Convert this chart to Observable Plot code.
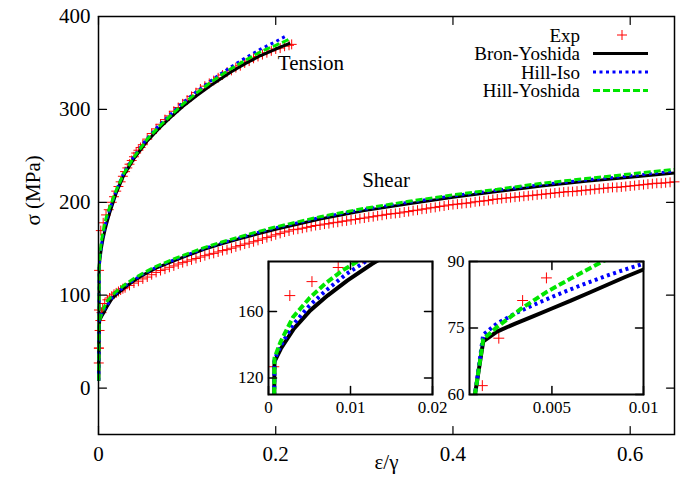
<!DOCTYPE html>
<html><head><meta charset="utf-8">
<script src="https://cdn.jsdelivr.net/npm/d3@7"></script>
<script src="https://cdn.jsdelivr.net/npm/@observablehq/plot@0.6"></script>
<style>
body{margin:0;background:#fff;}
#wrap{position:relative;width:684px;height:496px;font-family:"Liberation Serif",serif;}
#wrap svg{position:absolute;overflow:visible;font-family:"Liberation Serif",serif !important;}
#wrap svg text, #wrap svg g{font-family:"Liberation Serif",serif !important;}
</style></head><body><div id="wrap"></div>
<script>
// ---------- data (strain, stress MPa) ----------
const tensionExp = [[0.0003,43],[0.0005,84],[0.00065,126.7],[0.0026,169.5],[0.0053,177.9],[0.0085,186.4],[0.0115,192],[0.015,200],[0.0175,206],[0.02,212],[0.0225,217],[0.025,222],[0.0275,228],[0.03,233],[0.0325,237],[0.035,241],[0.0375,245],[0.04,249],[0.0425,253],[0.045,256],[0.0475,259],[0.05,262],[0.055,268],[0.06,274],[0.065,279],[0.07,284],[0.075,289],[0.08,293],[0.085,298],[0.09,302],[0.095,306],[0.1,310],[0.105,314],[0.11,318],[0.115,322],[0.12,325],[0.125,328],[0.13,331],[0.135,334],[0.14,337],[0.145,340],[0.15,342],[0.155,345],[0.16,347],[0.165,350],[0.17,352],[0.175,355],[0.18,357],[0.185,359],[0.19,361],[0.195,363],[0.2,365],[0.205,366],[0.21,368],[0.215,369],[0.218,370]];
const tensionBron = [[0.0002,8],[0.0007,110],[0.00073,129.7],[0.0015,137.5],[0.0031,149.6],[0.0051,160.6],[0.0072,169.5],[0.0096,178.5],[0.0126,188.5],[0.02,210],[0.0285,229],[0.04,247],[0.055,266],[0.07,281],[0.081,291],[0.095,303],[0.111,315],[0.13,328],[0.149,340],[0.165,349],[0.183,358],[0.2,365],[0.2163,371.3]];
const tensionHillIso = [[0.0002,8],[0.0007,110],[0.00073,131],[0.0015,139.5],[0.003,152],[0.005,163.5],[0.007,172.5],[0.0095,182.5],[0.012,190.5],[0.02,212.5],[0.0285,232],[0.04,249.5],[0.055,269],[0.07,284.5],[0.081,294.5],[0.095,307],[0.111,319.5],[0.13,333],[0.149,345.5],[0.165,355],[0.183,365],[0.2,373],[0.2126,379.6]];
const tensionHillYos = [[0.0002,8],[0.0007,110],[0.00073,132],[0.0015,142],[0.003,156.6],[0.005,168],[0.007,177],[0.009,184.5],[0.011,190.5],[0.02,213],[0.0285,231],[0.04,248.5],[0.055,268],[0.07,283],[0.081,293],[0.095,305.5],[0.111,318],[0.13,331.5],[0.149,343.5],[0.165,352.5],[0.183,362],[0.2,369],[0.2144,375]];

const shearExp = [[0.0003,27],[0.0006,43],[0.0012,62],[0.0021,72.7],[0.0034,81.2],[0.0047,86.3],[0.007,91],[0.01,95],[0.0125,97],[0.015,99],[0.0175,101],[0.02,102.5],[0.0225,104],[0.025,105.5],[0.0275,107],[0.03,108],[0.035,110.5],[0.04,113],[0.045,115],[0.05,117.5],[0.055,119.5],[0.06,122],[0.065,124.5],[0.07,126.5],[0.075,128],[0.08,130],[0.085,131.5],[0.09,133.5],[0.095,135],[0.1,136.5],[0.105,138],[0.11,139.5],[0.115,141],[0.12,142.5],[0.125,144],[0.13,145],[0.135,146.5],[0.14,148],[0.145,149],[0.15,150.5],[0.155,152],[0.16,153.5],[0.165,155],[0.17,156],[0.175,157.5],[0.18,159],[0.185,160.5],[0.19,162],[0.195,163.5],[0.2,165],[0.205,166.5],[0.21,168],[0.215,169],[0.22,170.5],[0.225,171],[0.23,172],[0.235,173],[0.24,174],[0.245,175],[0.25,175.5],[0.255,176.5],[0.26,177],[0.265,178],[0.27,178.5],[0.275,179.5],[0.28,180],[0.285,181],[0.29,181.5],[0.295,182.5],[0.3,183],[0.305,184],[0.31,184.5],[0.315,185.5],[0.32,186],[0.325,187],[0.33,187.5],[0.335,188],[0.34,188.5],[0.345,189.5],[0.35,190],[0.355,191],[0.36,191.5],[0.365,192.5],[0.37,193],[0.375,194],[0.38,194.5],[0.385,195.5],[0.39,196],[0.395,197],[0.4,197.5],[0.405,198],[0.41,198.5],[0.415,199],[0.42,199.5],[0.425,200.5],[0.43,201],[0.435,201.5],[0.44,202],[0.445,203],[0.45,203.5],[0.455,204],[0.46,204.5],[0.465,205],[0.47,205.5],[0.475,206],[0.48,206.5],[0.485,207],[0.49,207.5],[0.495,208],[0.5,208.5],[0.505,209],[0.51,209.5],[0.515,210],[0.52,210.5],[0.525,211],[0.53,211.5],[0.535,211.5],[0.54,212],[0.545,212.5],[0.55,213],[0.555,213.5],[0.56,214],[0.565,214.5],[0.57,215],[0.575,215.5],[0.58,216],[0.585,216],[0.59,216.5],[0.595,217],[0.6,217.5],[0.605,218],[0.61,218.5],[0.615,219],[0.62,219.5],[0.625,220],[0.63,220.5],[0.635,220.5],[0.64,221],[0.645,221.5],[0.65,222]];
const shearBron = [[0.0002,8],[0.0008,60],[0.00125,72],[0.002,74.2],[0.003,76],[0.004,77.7],[0.005,79.4],[0.006,81.1],[0.007,82.9],[0.008,84.7],[0.009,86.5],[0.01,88.2],[0.015,96],[0.02,100.5],[0.03,108.5],[0.04,115.5],[0.05,121.5],[0.065,129],[0.085,137],[0.1,142.5],[0.12,149.5],[0.14,155.5],[0.16,161],[0.18,166],[0.2,171],[0.25,182],[0.3,191],[0.35,198.5],[0.4,205.5],[0.45,211.5],[0.5,217.5],[0.55,222.5],[0.6,227],[0.65,231.5]];
const shearHillIso = [[0.0002,8],[0.0008,60],[0.00125,73.5],[0.002,76],[0.003,78.3],[0.004,80.2],[0.005,82],[0.006,83.7],[0.007,85.3],[0.008,86.8],[0.009,88.2],[0.01,89.5],[0.015,97],[0.02,102],[0.03,110],[0.04,116.5],[0.05,122.5],[0.065,130],[0.085,138],[0.1,143.5],[0.12,150.5],[0.14,156.5],[0.16,162],[0.18,167.5],[0.2,172.5],[0.25,183.5],[0.3,192.5],[0.35,200],[0.4,207],[0.45,213],[0.5,219],[0.55,224],[0.6,228.5],[0.65,233.5]];
const shearHillYos = [[0.0002,8],[0.0008,60],[0.00125,72.5],[0.002,75.2],[0.0033,79.3],[0.0047,83.1],[0.006,86.1],[0.0078,90.1],[0.01,94],[0.015,99],[0.02,104],[0.03,111.5],[0.04,118],[0.05,123.5],[0.065,131],[0.085,139],[0.1,144.5],[0.12,151.5],[0.14,157.5],[0.16,163],[0.18,168.5],[0.2,173.5],[0.25,184.5],[0.3,193.5],[0.35,201],[0.4,208],[0.45,214],[0.5,220.5],[0.55,225.5],[0.6,230.5],[0.65,235.5]];

// axes / ticks
const mainXTicks = [0, 0.2, 0.4, 0.6];
const mainYTicks = [0, 100, 200, 300, 400];
const inset1XTicks = [0, 0.01, 0.02];
const inset1YTicks = [120, 160];
const inset2XTicks = [0.005, 0.01];
const inset2YTicks = [60, 75, 90];
const legendLabels = ["Exp", "Bron-Yoshida", "Hill-Iso", "Hill-Yoshida"];
const curveLabels = [{text: "Tension", x: 0.2397, y: 349.8}, {text: "Shear", x: 0.3245, y: 223.7}];

// ---------- styles ----------
const RED = "#ff0000", BLUE = "#0000ff", GREEN = "#00e600";
const FONT = "Liberation Serif";
const DOT = "3,3.5", DASH = "7,3";
const tickShape = {draw(ctx, l) { ctx.moveTo(0, 0); ctx.lineTo(0, -l); }};

function frameTicks(xt, yt, len, sw) {
  const o = {shape: tickShape, length: len, anchor: "start", stroke: "black", strokeWidth: sw};
  return [
    Plot.vector(xt, {...o, x: d => d, frameAnchor: "bottom", rotate: 0}),
    Plot.vector(xt, {...o, x: d => d, frameAnchor: "top", rotate: 180}),
    Plot.vector(yt, {...o, y: d => d, frameAnchor: "left", rotate: 90}),
    Plot.vector(yt, {...o, y: d => d, frameAnchor: "right", rotate: 270})
  ];
}
function curves(exp, bron, iso, yos, lw, r, clip) {
  const X = d => d[0], Y = d => d[1];
  const L = {strokeWidth: lw, strokeLinecap: "butt", strokeLinejoin: "miter", clip};
  return [
    Plot.dot(exp, {x: X, y: Y, symbol: "plus", r, stroke: RED, strokeWidth: 1, clip}),
    Plot.line(bron, {x: X, y: Y, stroke: "black", ...L}),
    Plot.line(iso, {x: X, y: Y, stroke: BLUE, strokeDasharray: DOT, ...L}),
    Plot.line(yos, {x: X, y: Y, stroke: GREEN, strokeDasharray: DASH, ...L})
  ];
}

const wrap = document.getElementById("wrap");

// ---------- main plot ----------
const main = Plot.plot({
  width: 684, height: 496,
  marginLeft: 98, marginRight: 10, marginTop: 16, marginBottom: 62,
  x: {domain: [0, 0.65]},
  y: {domain: [-50, 400]},
  style: {fontFamily: FONT, fontSize: "21px", color: "black", background: "transparent"},
  marks: [
    ...curves(shearExp, shearBron, shearHillIso, shearHillYos, 3, 3.3, false),
    ...curves(tensionExp, tensionBron, tensionHillIso, tensionHillYos, 3, 3.3, false),
    Plot.frame({stroke: "black", strokeWidth: 1.5}),
    ...frameTicks(mainXTicks, mainYTicks, 8, 1.2),
    Plot.axisX({ticks: mainXTicks, tickSize: 0, tickPadding: 12, tickFormat: d => String(d), label: null, fontSize: 21, fontFamily: FONT}),
    Plot.axisY({ticks: mainYTicks, tickSize: 0, tickPadding: 8, label: null, fontSize: 21, fontFamily: FONT}),
    Plot.text(curveLabels, {x: "x", y: "y", text: "text", fontSize: 21, fontFamily: FONT}),
    Plot.text(["ε/γ"], {frameAnchor: "bottom", dy: 34, fontSize: 21, fontFamily: FONT}),
    Plot.text(["σ (MPa)"], {frameAnchor: "left", dx: -65, rotate: -90, fontSize: 21, fontFamily: FONT})
  ]
});
main.style.left = "0px"; main.style.top = "0px";
wrap.appendChild(main);

// ---------- insets ----------
function inset(opts) {
  const ml = 40, mr = 12, mt = 10, mb = 26;
  const p = Plot.plot({
    width: ml + opts.w + mr, height: mt + opts.h + mb,
    marginLeft: ml, marginRight: mr, marginTop: mt, marginBottom: mb,
    x: {domain: opts.xd}, y: {domain: opts.yd},
    style: {fontFamily: FONT, fontSize: "17px", color: "black", background: "transparent"},
    marks: [
      ...curves(opts.exp, opts.bron, opts.iso, opts.yos, 4, 3.6, true),
      Plot.frame({stroke: "black", strokeWidth: 2}),
      ...frameTicks(opts.xt, opts.yt, 8, 1.5),
      Plot.axisX({ticks: opts.xt, tickSize: 0, tickPadding: 6, tickFormat: d => String(d), label: null, fontSize: 17, fontFamily: FONT}),
      Plot.axisY({ticks: opts.yt, tickSize: 0, tickPadding: 5, tickFormat: d => String(d), label: null, fontSize: 17, fontFamily: FONT})
    ]
  });
  p.style.left = (opts.left - ml) + "px";
  p.style.top = (opts.top - mt) + "px";
  wrap.appendChild(p);
}
inset({left: 268, top: 261, w: 164, h: 133, xd: [0, 0.02], yd: [110, 190], xt: inset1XTicks, yt: inset1YTicks,
  exp: tensionExp, bron: tensionBron, iso: tensionHillIso, yos: tensionHillYos});
inset({left: 469, top: 261, w: 174, h: 133, xd: [0.0005, 0.01], yd: [60, 90], xt: inset2XTicks, yt: inset2YTicks,
  exp: shearExp, bron: shearBron, iso: shearHillIso, yos: shearHillYos});

// ---------- legend ----------
const leg = d3.create("svg").attr("width", 684).attr("height", 110)
  .style("left", "0px").style("top", "0px");
const rowsY = [35, 53.5, 72, 90.5];
legendLabels.forEach((lab, i) => {
  leg.append("text").attr("x", 580).attr("y", rowsY[i]).attr("text-anchor", "end")
    .attr("dy", "0.35em").attr("font-size", 19).text(lab);
});
leg.append("path").attr("d", `M617,${rowsY[0]}h10M622,${rowsY[0] - 5}v10`).attr("stroke", RED).attr("stroke-width", 1);
leg.append("line").attr("x1", 593).attr("x2", 648).attr("y1", rowsY[1]).attr("y2", rowsY[1]).attr("stroke", "black").attr("stroke-width", 3);
leg.append("line").attr("x1", 593).attr("x2", 648).attr("y1", rowsY[2]).attr("y2", rowsY[2]).attr("stroke", BLUE).attr("stroke-width", 3).attr("stroke-dasharray", DOT);
leg.append("line").attr("x1", 593).attr("x2", 648).attr("y1", rowsY[3]).attr("y2", rowsY[3]).attr("stroke", GREEN).attr("stroke-width", 3).attr("stroke-dasharray", DASH);
wrap.appendChild(leg.node());
</script></body></html>
